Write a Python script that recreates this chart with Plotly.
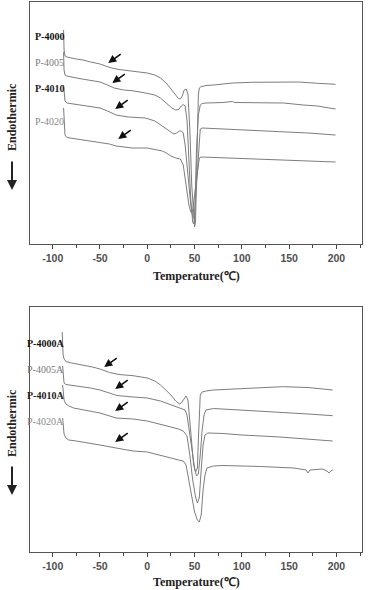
import plotly.graph_objects as go

# ---------------- data (temperature in °C, heat flow in arbitrary units) ----------------
# Top panel
top_names = ["P-4000", "P-4005", "P-4010", "P-4020"]
top_T = [
    [-88.5, -88, -87, -85, -75, -68, -60, -50, -44, -38, -30, -22, -10, 0, 8, 14, 20, 25, 30, 33, 35, 37, 39, 41, 43, 45, 47, 49, 50, 51, 52, 53, 54, 55, 57, 60, 62, 70, 90, 110, 140, 160, 180, 199],
    [-88.5, -88, -87, -85, -75, -65, -50, -42, -35, -25, -16, -2, 8, 14, 20, 26, 30, 33, 36, 38, 40, 42, 44, 46, 48, 49, 50, 51, 52, 54, 56, 58, 62, 80, 90, 92, 120, 144, 165, 180, 199],
    [-88.5, -88, -87, -85, -75, -68, -50, -42, -33, -20, -2, 8, 14, 20, 25, 28, 31, 34, 36, 38, 40, 43, 46, 48, 49, 50, 52, 54, 55, 56, 58, 70, 100, 144, 170, 199],
    [-88.5, -88, -87, -85, -75, -68, -50, -40, -33, -16, 0, 12, 16, 20, 25, 30, 35, 38, 41, 44, 46, 47, 48, 50, 52, 54, 55, 57, 70, 100, 150, 199],
]
top_Y = [
    [214, 194, 188, 187, 185, 184, 182, 180, 178, 176, 174.5, 173.5, 172.5, 171, 169, 166, 161, 155, 149, 145.5, 145, 148, 154, 155, 150, 114, 59, 22, 17, 22, 64, 114, 149, 156, 157.5, 158, 158.5, 159, 161, 161.7, 162.3, 162, 160.7, 159.7],
    [192, 174, 169, 168, 166, 164.5, 162, 159, 156, 154, 153.3, 151, 149, 146, 141, 136, 134, 134.5, 138, 139.5, 138, 124, 84, 44, 22, 20, 24, 54, 94, 129, 139, 140.5, 141, 141.5, 142.5, 141.5, 141.5, 141, 139, 138, 135],
    [159, 149, 143, 141, 139.5, 139, 136, 133, 129, 127, 126, 123, 119, 115, 111.5, 110, 111, 113, 113, 111, 99, 69, 39, 28, 26, 30, 59, 94, 109, 115, 116, 115.5, 114.5, 112.5, 111, 109],
    [136, 119, 109, 106.5, 105, 104, 102, 100, 98, 96, 96, 94, 93, 91, 88, 86, 85, 79, 59, 39, 32, 31, 34, 49, 66, 82, 86, 87, 86.5, 85.5, 84, 82],
]

# Bottom panel
bot_names = ["P-4000A", "P-4005A", "P-4010A", "P-4020A"]
bot_T = [
    [-90, -89.5, -89, -88, -86, -80, -68, -58, -50, -40, -30, -15, 0, 8, 14, 20, 25, 30, 34, 36, 39, 41, 43, 45, 47, 49, 51, 53, 54, 55, 56, 58, 62, 70, 100, 143, 170, 196],
    [-89.5, -89, -88, -86, -75, -68, -60, -50, -40, -32, -15, 0, 14, 25, 33, 40, 42, 45, 48, 50, 52, 54, 56, 58, 60, 62, 70, 100, 140, 170, 196],
    [-89.5, -89, -88, -86, -83, -78, -68, -50, -33, -15, 0, 14, 25, 33, 38, 42, 45, 48, 51, 53, 55, 57, 59, 61, 64, 80, 100, 140, 170, 196],
    [-89.5, -89, -88, -86, -83, -75, -68, -50, -33, -15, 0, 14, 25, 33, 38, 41, 44, 47, 50, 53, 55, 57, 59, 61, 63, 70, 80, 120, 155, 168, 170, 172, 185, 190, 192, 194, 196],
]
bot_Y = [
    [220, 207, 197, 193, 190.5, 189, 187, 185, 183, 179.5, 177.5, 176.3, 174, 171, 167, 162, 157, 151, 148, 149, 154, 156, 152, 132, 107, 87, 80, 84, 112, 142, 157, 160, 161, 162, 163.5, 165.3, 164.5, 162],
    [186, 174, 169, 167.5, 166, 165.5, 164, 162, 159, 156.5, 155, 154, 151, 147.5, 144.5, 142, 137, 117, 97, 84, 76, 78, 97, 122, 137, 142, 143.5, 142, 140, 138, 136.3],
    [167, 157, 152, 148, 146, 144, 142, 139, 134, 133, 131, 128, 125, 123, 121, 116, 97, 72, 55, 49, 54, 82, 107, 117, 119, 118.5, 117, 115, 113, 111],
    [134, 124, 118, 114, 112, 111, 110, 107, 104, 101, 100, 97, 94, 92, 91, 87, 72, 54, 40, 32, 30, 37, 62, 77, 84, 86, 86.5, 85.5, 84, 82, 79, 82, 83, 81, 79, 81, 82],
]

# label heights (same units as curves)
top_label_y = [207, 181, 155, 122]
bot_label_y = [209, 183, 157, 131]
label_colors = ["#111111", "#7a7a7a", "#222222", "#8a8a8a"]
label_bold = [True, False, True, False]

# glass-transition arrow tips (temperature, heat flow)
top_arrow_T = [-41.3, -37.0, -33.9, -30.7]
top_arrow_Y = [181, 161, 135, 105]
bot_arrow_T = [-45.5, -33.9, -33.9, -33.9]
bot_arrow_Y = [185, 163, 141, 110]

x_ticks = [-100, -50, 0, 50, 100, 150, 200]
x_ticktext = ["-100", "-50", "0", "50", "100", "150", "200"]

# ---------------- figure ----------------
W, H = 368, 590
fig = go.Figure()

line_col = "#7d7d7d"
for T, Y in zip(top_T, top_Y):
    fig.add_trace(go.Scatter(x=T, y=Y, mode="lines", line=dict(color=line_col, width=1),
                             xaxis="x", yaxis="y", showlegend=False, hoverinfo="skip"))
for T, Y in zip(bot_T, bot_Y):
    fig.add_trace(go.Scatter(x=T, y=Y, mode="lines", line=dict(color=line_col, width=1),
                             xaxis="x2", yaxis="y2", showlegend=False, hoverinfo="skip"))

def py(pix):
    return (H - pix) / H

def px(pix):
    return pix / W

xdom = [px(30), px(362)]
axis_common = dict(range=[-124, 227], tickvals=x_ticks, ticktext=[f"<b>{t}</b>" for t in x_ticktext],
                   ticks="outside", ticklen=4, tickwidth=1,
                   tickcolor="#444", showline=True, linecolor="#555", linewidth=1, mirror=True,
                   showgrid=False, zeroline=False,
                   tickfont=dict(family="Liberation Sans, Arial", size=10.5, color="#505050"),
                   minor=dict(tickvals=[-75, -25, 25, 75, 125, 175, 225], ticks="outside", ticklen=3,
                              tickcolor="#444"))
yaxis_common = dict(showticklabels=False, ticks="", showgrid=False, zeroline=False,
                    showline=True, linecolor="#555", linewidth=1, mirror=True)

fig.update_layout(
    width=W, height=H, margin=dict(l=0, r=0, t=0, b=0),
    paper_bgcolor="white", plot_bgcolor="white",
    xaxis=dict(domain=xdom, anchor="y", **axis_common),
    yaxis=dict(domain=[py(244), py(2)], anchor="x", range=[0, 242], **yaxis_common),
    xaxis2=dict(domain=xdom, anchor="y2", **axis_common),
    yaxis2=dict(domain=[py(552), py(307)], anchor="x2", range=[0, 245], **yaxis_common),
)

ann = []
serif = "Liberation Serif, Times New Roman, serif"
# curve labels
for names, ys, xr, yr in [(top_names, top_label_y, "x", "y"), (bot_names, bot_label_y, "x2", "y2")]:
    for i, (n, yv) in enumerate(zip(names, ys)):
        txt = f"<b>{n}</b>" if label_bold[i] else n
        ann.append(dict(x=-88.5, y=yv, xref=xr, yref=yr, text=txt, showarrow=False,
                        xanchor="right", yanchor="middle", xshift=2,
                        font=dict(family=serif, size=10, color=label_colors[i])))
# small arrows
for Ts, Ys, xr, yr in [(top_arrow_T, top_arrow_Y, "x", "y"), (bot_arrow_T, bot_arrow_Y, "x2", "y2")]:
    for t, yv in zip(Ts, Ys):
        ann.append(dict(x=t, y=yv, xref=xr, yref=yr, text="", showarrow=True, arrowhead=2,
                        arrowsize=1, arrowwidth=1.6, arrowcolor="#111", ax=14, ay=-10))
# axis titles
for ypix in [276, 582]:
    ann.append(dict(x=px(196), y=py(ypix), xref="paper", yref="paper",
                    text="<b>Temperature(℃)</b>", showarrow=False,
                    xanchor="center", yanchor="middle",
                    font=dict(family=serif, size=12, color="#222")))
for ycen, yhead in [(117, 190), (423, 495)]:
    ann.append(dict(x=px(12), y=py(ycen), xref="paper", yref="paper", text="<b>Endothermic</b>",
                    textangle=-90, showarrow=False, xanchor="center", yanchor="middle",
                    font=dict(family=serif, size=12, color="#222")))
    ann.append(dict(x=px(12), y=py(yhead), xref="paper", yref="paper", text="",
                    showarrow=True, arrowhead=2, arrowsize=1, arrowwidth=2, arrowcolor="#222",
                    ax=0, ay=-30))
fig.update_layout(annotations=ann)

fig.write_html("out.html")
